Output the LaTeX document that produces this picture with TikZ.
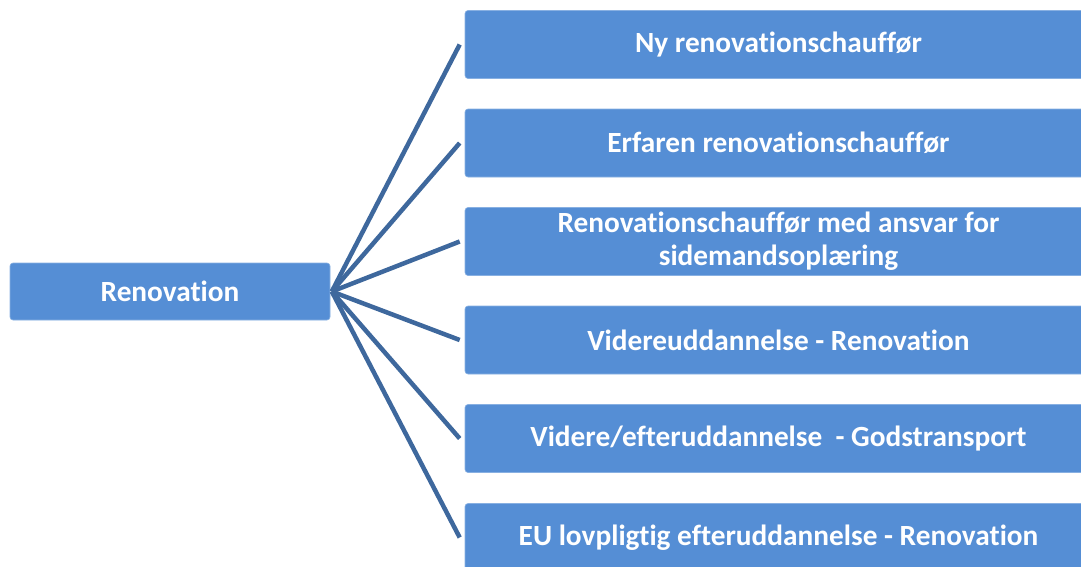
\documentclass[tikz,border=0pt]{standalone}
\usepackage{fontspec}
\setmainfont{Carlito}[Ligatures={NoCommon}]
\definecolor{boxblue}{RGB}{85,142,213}
\definecolor{lineblue}{RGB}{62,104,157}
\begin{document}
\begin{tikzpicture}[x=1pt,y=-1pt,
  box/.style={fill=boxblue, draw=boxblue!70!white, line width=0.6pt, rounded corners=3pt, text=white,
    font=\fontsize{29.3}{33}\selectfont\bfseries, align=center, inner sep=0pt},
  rbox/.style={box, minimum width=627pt, minimum height=68pt},
  conn/.style={lineblue, line width=4.5pt}]
\useasboundingbox (0,0) rectangle (1081,566);
\clip (0,0) rectangle (1081,566);
\node[box, minimum width=320pt, minimum height=57pt] (renov) at (170,291.5) {Renovation};
\node[rbox] (b1) at (778.5,44.5) {Ny renovationschauffør};
\node[rbox] (b2) at (778.5,143) {Erfaren renovationschauffør};
\node[rbox] (b3) at (778.5,241.5) {Renovationschauffør med ansvar for\\sidemandsoplæring};
\node[rbox] (b4) at (778.5,340) {Videreuddannelse - Renovation};
\node[rbox] (b5) at (778.5,438.5) {Videre/efteruddannelse\ \ - Godstransport};
\node[rbox] (b6) at (778.5,537.5) {EU lovpligtig efteruddannelse - Renovation};
\foreach \b in {b1,b2,b3,b4,b5,b6}
  \draw[conn] ([xshift=1.5pt]renov.east) -- ([xshift=-5pt]\b.west);
\end{tikzpicture}
\end{document}
